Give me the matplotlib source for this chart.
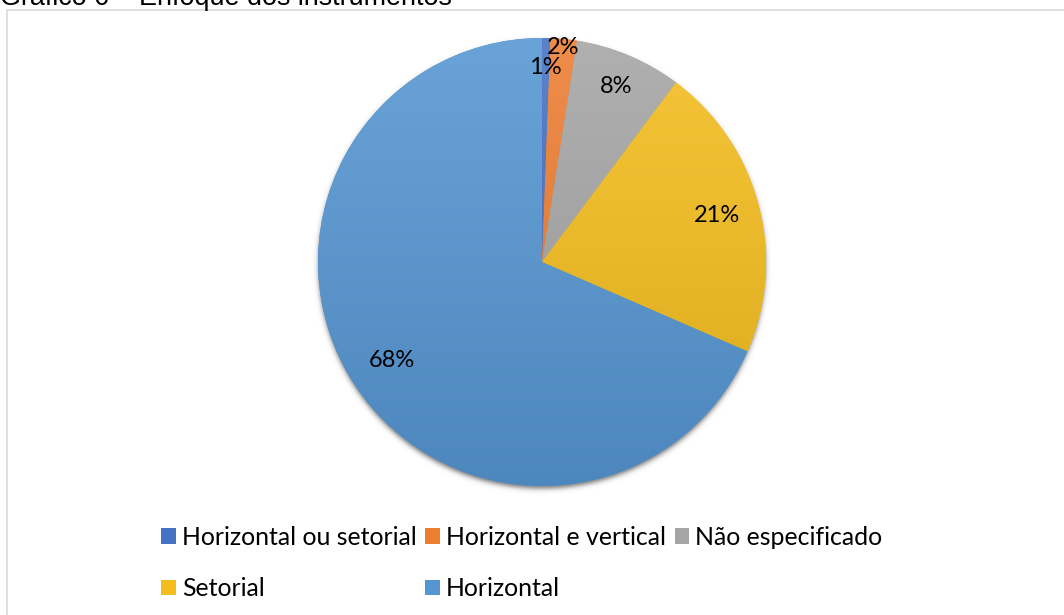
import numpy as np
import matplotlib
matplotlib.use("Agg")
import matplotlib.pyplot as plt
from matplotlib.patches import Patch
from matplotlib.colors import to_rgb

# ---- data ----
categories = ["Horizontal ou setorial", "Horizontal e vertical", "Não especificado",
              "Setorial", "Horizontal"]
values = [0.6, 1.9, 7.7, 21.3, 68.4]   # percent
colors = ["#4472C4", "#ED7D31", "#A5A5A5", "#F4BD1E", "#5596D2"]
title = "Gráfico 6 – Enfoque dos instrumentos"

W, H = 1064, 615
fig = plt.figure(figsize=(W / 100, H / 100), dpi=100)
ax = fig.add_axes([0, 0, 1, 1])
ax.set_xlim(0, W)
ax.set_ylim(0, H)
ax.set_aspect("equal")
ax.axis("off")

cx, cy, R = 542, H - 262, 224

# shadow
sx = np.linspace(cx - R - 30, cx + R + 30, 400)
sy = np.linspace(cy - R - 30, cy + R + 30, 400)
XX, YY = np.meshgrid(sx, sy)
d = np.hypot(XX - cx, YY - (cy - 3))
alpha = 0.55 * 0.5 * (1 - np.tanh((d - R) / 3.0))
img = np.zeros(XX.shape + (4,))
img[..., 3] = alpha
ax.imshow(img, extent=(sx[0], sx[-1], sy[0], sy[-1]), origin="lower", zorder=1,
          interpolation="bilinear")

wedges, _ = ax.pie(values, colors=colors, startangle=90, counterclock=False,
                   center=(cx, cy), radius=R, frame=True,
                   wedgeprops=dict(linewidth=0, zorder=2))
ax.set_xlim(0, W)
ax.set_ylim(0, H)
ax.axis("off")

# gradient fill for each wedge (lighter on top, darker at bottom)
gy = np.linspace(0, 1, 256)
for w, c in zip(wedges, colors):
    base = np.array(to_rgb(c))
    top = base + (1 - base) * 0.12
    bot = base * 0.90
    grad = bot[None, :] * (1 - gy[:, None]) + top[None, :] * gy[:, None]
    gimg = np.repeat(grad[:, None, :], 2, axis=1)
    im = ax.imshow(gimg, extent=(cx - R, cx + R, cy - R, cy + R), origin="lower",
                   zorder=3, interpolation="bilinear")
    im.set_clip_path(w)
    w.set_zorder(2)

# labels
label_font = ["Lato", "DejaVu Sans"]
label_dist = [0.87, 0.96, 0.85, 0.81, 0.80]
for w, v, dist in zip(wedges, values, label_dist):
    ang = np.deg2rad((w.theta1 + w.theta2) / 2)
    x = cx + dist * R * np.cos(ang)
    y = cy + dist * R * np.sin(ang)
    ax.text(x, y, f"{v:.0f}%", ha="center", va="center", fontsize=17,
            family=label_font, color="#000000", zorder=5)

# legend in row-major order
handles = [Patch(facecolor=c, edgecolor="none") for c in colors]
order = [0, 3, 1, 4, 2]
leg = fig.legend([handles[i] for i in order], [categories[i] for i in order],
                 ncol=3, loc="center", bbox_to_anchor=(522 / W, 1 - 563 / H),
                 frameon=False, prop=dict(family=label_font, size=17.9),
                 handlelength=0.58, handleheight=0.58, handletextpad=0.25,
                 columnspacing=0.35, labelspacing=1.15)

# chart border (only top and left visible)
ax.plot([7, 7, W + 5], [-5, H - 10, H - 10], color="#D9D9D9", lw=1.2, zorder=0,
        clip_on=False)

# title, partially cut off at top (as in the source image)
fig.text(0, 1 - 5 / H, title, ha="left", va="baseline", fontsize=19.4,
         family=["Liberation Sans", "DejaVu Sans"], color="#000000")

fig.savefig("out.png", dpi=100)
